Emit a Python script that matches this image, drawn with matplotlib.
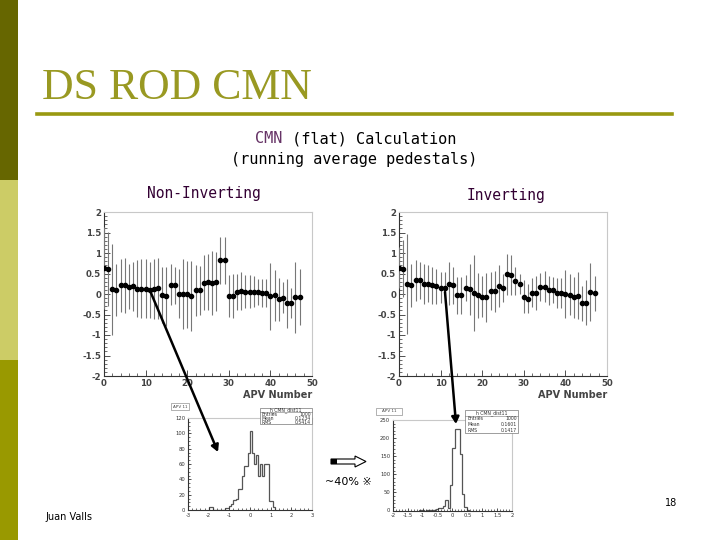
import numpy as np
import matplotlib
matplotlib.use("Agg")
import matplotlib.pyplot as plt
from matplotlib.patches import Rectangle, Polygon, FancyArrowPatch

# ---------------- data ----------------
apv = list(range(48))
noninv_mean = [0.64, 0.61, 0.11, 0.10, 0.21, 0.21, 0.18, 0.19, 0.13, 0.13,
               0.13, 0.10, 0.13, 0.14, -0.02, -0.06, 0.22, 0.21, 0.01, 0.00,
               -0.01, -0.05, 0.09, 0.09, 0.28, 0.30, 0.28, 0.30, 0.82, 0.82,
               -0.05, -0.05, 0.05, 0.07, 0.06, 0.06, 0.06, 0.05, 0.03, 0.03,
               -0.06, -0.03, -0.13, -0.09, -0.23, -0.22, -0.08, -0.07]
noninv_err = [1.00, 0.90, 1.12, 0.64, 0.65, 0.68, 0.55, 0.60, 0.70, 0.72,
              0.72, 0.68, 0.73, 0.74, 0.68, 0.72, 0.50, 0.45, 0.60, 0.86,
              0.82, 0.85, 0.62, 0.60, 0.66, 0.68, 0.78, 0.72, 0.58, 0.58,
              0.52, 0.53, 0.43, 0.47, 0.40, 0.40, 0.37, 0.32, 0.34, 0.34,
              0.82, 0.62, 0.52, 0.38, 0.60, 0.37, 0.86, 0.68]
inv_mean = [0.64, 0.62, 0.24, 0.21, 0.33, 0.33, 0.25, 0.25, 0.21, 0.19,
            0.15, 0.15, 0.25, 0.21, -0.03, -0.03, 0.15, 0.11, 0.02, -0.03,
            -0.07, -0.08, 0.07, 0.07, 0.19, 0.15, 0.48, 0.46, 0.32, 0.25,
            -0.07, -0.11, 0.03, 0.02, 0.17, 0.18, 0.09, 0.09, 0.02, 0.02,
            0.00, -0.02, -0.08, -0.04, -0.23, -0.21, 0.05, 0.02]
inv_err = [0.50, 0.69, 1.22, 0.53, 0.49, 0.45, 0.49, 0.45, 0.45, 0.43,
           0.38, 0.38, 0.53, 0.45, 0.45, 0.45, 0.31, 0.63, 0.92, 0.55,
           0.50, 0.60, 0.47, 0.50, 0.51, 0.35, 0.50, 0.48, 0.34, 0.25,
           0.40, 0.35, 0.35, 0.42, 0.35, 0.38, 0.36, 0.32, 0.37, 0.37,
           0.58, 0.50, 0.50, 0.58, 0.42, 0.54, 0.70, 0.43]

# histogram of APV 11, non-inverting (bin width 0.1 starting at -2.0)
hist_l_start = -2.0
hist_l_width = 0.1
hist_l_counts = [4, 4, 0, 0, 0, 0, 0, 0, 2, 3,
                 5, 8, 13, 15, 27, 27, 44, 57, 58, 74,
                 103, 74, 60, 72, 45, 60, 45, 60, 60, 12,
                 12, 4]
# histogram of APV 11, inverting (bin width 0.08 starting at -1.12)
hist_r_start = -1.12
hist_r_width = 0.08
hist_r_counts = [1, 1, 0, 1, 1, 2, 2, 4, 6, 7,
                 12, 28, 6, 71, 172, 224, 224, 157, 46, 11, 2]

scatter_yticks = [-2, -1.5, -1, -0.5, 0, 0.5, 1, 1.5, 2]
scatter_ylabels = ["-2", "-1.5", "-1", "-0.5", "0", "0.5", "1", "1.5", "2"]
scatter_xticks = [0, 10, 20, 30, 40, 50]
hl_xticks = [-3, -2, -1, 0, 1, 2, 3]
hl_xlabels = ["-3", "-2", "-1", "0", "1", "2", "3"]
hl_yticks = [0, 20, 40, 60, 80, 100, 120]
hr_xticks = [-2, -1.5, -1, -0.5, 0, 0.5, 1, 1.5, 2]
hr_xlabels = ["-2", "-1.5", "-1", "-0.5", "0", "0.5", "1", "1.5", "2"]
hr_yticks = [0, 50, 100, 150, 200, 250]

stats_l = [("Entries", "1000"), ("Mean", "0.1234"), ("RMS", "0.5414")]
stats_r = [("Entries", "1000"), ("Mean", "0.1601"), ("RMS", "0.1417")]

# ---------------- figure ----------------
W, H = 720, 540
fig = plt.figure(figsize=(7.2, 5.4), dpi=100)
fig.patch.set_facecolor("white")


def fx(x):
    return x / W


def fy(y):
    return 1 - y / H


def axes_px(x0, y0, x1, y1):
    return fig.add_axes([fx(x0), fy(y1), (x1 - x0) / W, (y1 - y0) / H])


# left sidebar
fig.add_artist(Rectangle((0, fy(180)), fx(18), 180 / H, transform=fig.transFigure,
                         color="#666600", lw=0))
fig.add_artist(Rectangle((0, fy(360)), fx(18), 180 / H, transform=fig.transFigure,
                         color="#cccc66", lw=0))
fig.add_artist(Rectangle((0, 0), fx(18), 180 / H, transform=fig.transFigure,
                         color="#999900", lw=0))

# title and rule
fig.text(fx(42), fy(99), "DS ROD CMN", family="Liberation Serif", fontsize=31.5,
         color="#999922", ha="left", va="baseline")
fig.add_artist(plt.Line2D([fx(37), fx(672)], [fy(114), fy(114)], transform=fig.transFigure,
                          color="#999911", lw=2.6))

# subtitle
sub_font = dict(family="DejaVu Sans Mono", fontsize=11)
fig.text(fx(255), fy(143), "CMN", color="#663366", ha="left", va="baseline", **sub_font)
fig.text(fx(255 + 27.6), fy(143), " (flat) Calculation", color="black", ha="left",
         va="baseline", **sub_font)
fig.text(fx(354), fy(164), "(running average pedestals)", color="black", ha="center",
         va="baseline", **sub_font)
lab_font = dict(family="DejaVu Sans Mono", fontsize=10.5)
fig.text(fx(204), fy(198), "Non-Inverting", color="#330033", ha="center",
         va="baseline", **lab_font)
fig.text(fx(506), fy(200), "Inverting", color="#330033", ha="center",
         va="baseline", **lab_font)


def style_root(ax, lab_size):
    for s in ("left", "bottom"):
        ax.spines[s].set_color("#333333")
        ax.spines[s].set_linewidth(0.8)
    for s in ("right", "top"):
        ax.spines[s].set_color("#c8c8c8")
        ax.spines[s].set_linewidth(0.8)
    ax.tick_params(which="both", direction="in", colors="#333333",
                   labelsize=lab_size, pad=2)
    ax.tick_params(which="major", length=4, width=0.6)
    ax.tick_params(which="minor", length=2, width=0.5)
    ax.set_facecolor("white")


def scatter_panel(x0, means, errs):
    ax = axes_px(x0, 212, x0 + 208, 376)
    ax.errorbar(apv, means, yerr=errs, fmt="o", color="black", ms=3.0,
                ecolor="#777777", elinewidth=0.8, capsize=0, zorder=3)
    ax.set_xlim(0, 50)
    ax.set_ylim(-2, 2)
    ax.set_yticks(scatter_yticks)
    ax.set_yticklabels(scatter_ylabels)
    ax.set_xticks(scatter_xticks)
    ax.set_xticklabels([str(v) for v in scatter_xticks])
    ax.set_xticks(np.arange(0, 51, 2), minor=True)
    ax.set_yticks(np.arange(-2, 2.01, 0.1), minor=True)
    style_root(ax, 6.2)
    for lab in ax.get_xticklabels() + ax.get_yticklabels():
        lab.set_fontweight("bold")
        lab.set_color("#444444")
    ax.text(1.0, -0.085, "APV Number", transform=ax.transAxes, ha="right", va="top",
            fontsize=7, fontweight="bold", color="#444444")
    return ax


scatter_panel(104, noninv_mean, noninv_err)
scatter_panel(399, inv_mean, inv_err)


def hist_panel(x0, x1, y0, y1, start, width, counts, xlim, ylim, xt, xl, yt,
               stats, sbox, tbox):
    ax = axes_px(x0, y0, x1, y1)
    edges = start + width * np.arange(len(counts) + 1)
    ax.stairs(counts, edges, color="#555555", lw=0.9)
    ax.set_xlim(*xlim)
    ax.set_ylim(*ylim)
    ax.set_xticks(xt)
    ax.set_xticklabels(xl)
    ax.set_yticks(yt)
    ax.set_yticklabels([str(v) for v in yt])
    style_root(ax, 3.8)
    ax.tick_params(which="major", length=2.5)
    ax.tick_params(which="minor", length=1.3)
    ax.minorticks_on()
    # stats box
    bx0, by0, bx1, by1 = sbox
    fig.add_artist(Rectangle((fx(bx0), fy(by1)), (bx1 - bx0) / W, (by1 - by0) / H,
                             transform=fig.transFigure, facecolor="white",
                             edgecolor="#777777", lw=0.5, zorder=5))
    rowh = (by1 - by0) / 4
    fig.add_artist(plt.Line2D([fx(bx0), fx(bx1)], [fy(by0 + rowh), fy(by0 + rowh)],
                              transform=fig.transFigure, color="#777777", lw=0.4,
                              zorder=6))
    fig.text(fx((bx0 + bx1) / 2), fy(by0 + rowh * 0.5), "h_CMN_dist11", fontsize=3.3,
             ha="center", va="center", color="#333333", zorder=7)
    for i, (k, v) in enumerate(stats):
        yy = fy(by0 + rowh * (i + 1.5))
        fig.text(fx(bx0 + 2), yy, k, fontsize=3.3, ha="left", va="center",
                 color="#333333", zorder=7)
        fig.text(fx(bx1 - 1), yy, v, fontsize=3.3, ha="right", va="center",
                 color="#333333", zorder=7)
    # title box
    tx0, ty0, tx1, ty1 = tbox
    fig.add_artist(Rectangle((fx(tx0), fy(ty1)), (tx1 - tx0) / W, (ty1 - ty0) / H,
                             transform=fig.transFigure, facecolor="white",
                             edgecolor="#777777", lw=0.4, zorder=5))
    fig.text(fx((tx0 + tx1) / 2), fy((ty0 + ty1) / 2), "APV 11", fontsize=3.0,
             ha="center", va="center", color="#444444", zorder=7)
    return ax


hist_panel(188, 312, 418, 510, hist_l_start, hist_l_width, hist_l_counts,
           (-3, 3), (0, 120), hl_xticks, hl_xlabels, hl_yticks, stats_l,
           (260, 408, 312, 424), (171, 403, 189, 410))
hist_panel(393, 512, 420, 510.5, hist_r_start, hist_r_width, hist_r_counts,
           (-2, 2), (0, 250), hr_xticks, hr_xlabels, hr_yticks, stats_r,
           (465, 410, 518, 433), (376, 408, 402, 415))

# thin arrows from scatter point to histogram
for (xa, ya, xb, yb) in [(151, 293, 218, 452), (445, 292, 456, 424)]:
    arr = FancyArrowPatch((fx(xa), fy(ya)), (fx(xb), fy(yb)), transform=fig.transFigure,
                          arrowstyle="-|>,head_length=4,head_width=2.2", color="black",
                          lw=1.8, mutation_scale=1, shrinkA=0, shrinkB=0, zorder=10)
    fig.add_artist(arr)

# fat arrow
pts = [(331, 459), (355, 459), (355, 456), (366, 461.5), (355, 467), (355, 464), (331, 464)]
fig.add_artist(Polygon([(fx(a), fy(b)) for a, b in pts], closed=True,
                       transform=fig.transFigure, facecolor="white", edgecolor="black",
                       lw=0.8, zorder=10))
fig.add_artist(Rectangle((fx(331), fy(464)), 6 / W, 5 / H, transform=fig.transFigure,
                         facecolor="black", lw=0, zorder=11))
fig.text(fx(348), fy(485), "~40% \u203b", fontsize=8, ha="center", va="baseline",
         family="DejaVu Sans", color="black")

# footer
fig.text(fx(45), fy(520), "Juan Valls", fontsize=7, ha="left", va="baseline",
         family="DejaVu Sans", color="black")
fig.text(fx(677), fy(506), "18", fontsize=7, ha="right", va="baseline",
         family="DejaVu Sans", color="black")

fig.savefig("out.png", dpi=100, facecolor="white")
